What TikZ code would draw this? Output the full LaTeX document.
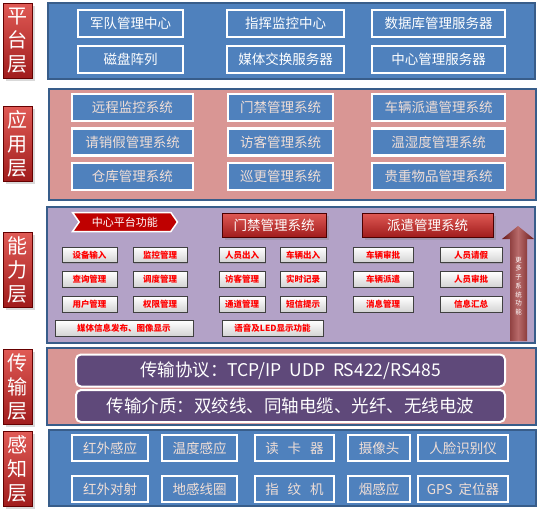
\documentclass[tikz,border=0pt]{standalone}
\usepackage{fontspec}
\setmainfont{Noto Sans CJK SC}
\usepackage{xcolor}
\usepackage{tikz}
\usetikzlibrary{shapes.symbols,shadows}
\definecolor{pblue}{HTML}{4F81BD}
\definecolor{pblueline}{HTML}{385D8A}
\definecolor{ppink}{HTML}{D99694}
\definecolor{ppurple}{HTML}{B3A2C7}
\definecolor{barpurple}{HTML}{5F497A}
\definecolor{redtop}{HTML}{E05A55}
\definecolor{redbot}{HTML}{A01C1C}
\definecolor{palefont}{HTML}{F0DED6}
\definecolor{arrowred}{HTML}{6A1A1A}
\definecolor{arrowmid}{HTML}{B86A6A}

\begin{document}
\begin{tikzpicture}[x=1pt,y=-1pt,
	layer/.style={draw=red!40!black,top color=redtop,bottom color=redbot,text=white,minimum width=29,minimum height=75,inner sep=0pt,align=center,font=\fontsize{20}{24}\selectfont,drop shadow={opacity=0.3}},
	panel/.style={draw=pblueline,line width=1.5},
	bluebox/.style={draw=white,line width=2.2,fill=pblue,minimum height=27,inner sep=0pt,font=\fontsize{13.5}{15}\selectfont,drop shadow={opacity=0.3,shadow xshift=1pt,shadow yshift=-1pt}},
	hdr/.style={draw=red!30!black,top color=redtop,bottom color=redbot,text=white,minimum height=24,inner sep=0pt,font=\fontsize{13.5}{15}\selectfont,drop shadow={opacity=0.35}},
	btn/.style={draw=gray!50!black,line width=0.7,top color=white,bottom color=gray!35,text=red,minimum height=15.5,inner sep=0pt,font=\fontsize{8.5}{10}\selectfont\bfseries,drop shadow={opacity=0.35,shadow xshift=1pt,shadow yshift=-1pt}},
	bar/.style={draw=white,line width=2,fill=barpurple,rounded corners=5,text=white,minimum width=429,minimum height=32,inner sep=0pt,font=\fontsize{17.5}{19}\selectfont}]
	\useasboundingbox (0,0) rectangle (550,509);

	% layer names
	\node[layer] (pingtai) at (17.5,40.5) {平\\台\\层};
	\node[layer] (yingyong) at (17.5,144) {应\\用\\层};
	\node[layer] (nengli) at (17.5,269.5) {能\\力\\层};
	\node[layer] (chuanshu) at (17.5,387) {传\\输\\层};
	\node[layer] (ganzhi) at (17.5,469) {感\\知\\层};

	% platform
	\draw[panel,fill=pblue] (48,3) rectangle (535,79);
	\node[bluebox,text=white,minimum width=105] (jundui) at (130.5,23.5) {军队管理中心};
	\node[bluebox,text=white,minimum width=105] (cipan) at (130.5,59.5) {磁盘阵列};
	\node[bluebox,text=white,minimum width=117] (zhihui) at (285.5,23.5) {指挥监控中心};
	\node[bluebox,text=white,minimum width=117] (meiti) at (285.5,59.5) {媒体交换服务器};
	\node[bluebox,text=white,minimum width=133] (shujuku) at (438.5,23.5) {数据库管理服务器};
	\node[bluebox,text=white,minimum width=133] (zhongxin) at (438.5,59.5) {中心管理服务器};

	% application
	\draw[panel,fill=ppink] (49,89) rectangle (536,200);
	\foreach \name/\y/\txt in {yuancheng/107.5/远程监控系统,qingxiao/142/请销假管理系统,cangku/176.5/仓库管理系统}
		\node[bluebox,text=palefont,minimum width=121] (\name) at (132.5,\y) {\txt};
	\foreach \name/\y/\txt in {menjin/107.5/门禁管理系统,fangke/142/访客管理系统,xungeng/176.5/巡更管理系统}
		\node[bluebox,text=palefont,minimum width=105] (\name) at (280.5,\y) {\txt};
	\foreach \name/\y/\txt in {cheliang/107.5/车辆派遣管理系统,wenshidu/142/温湿度管理系统,guizhong/176.5/贵重物品管理系统}
		\node[bluebox,text=palefont,minimum width=133] (\name) at (438.5,\y) {\txt};

	% capability
	\draw[panel,fill=ppurple] (47,207) rectangle (535,343);
	\node[signal,signal from=west,signal to=east,signal pointer angle=110,draw=white,line width=1.5,fill=red!75!black,text=white,minimum width=105,minimum height=19,inner sep=0pt,font=\fontsize{11}{13}\selectfont] (zhongxinpt) at (125,222) {中心平台功能};
	\node[hdr,minimum width=104] (menjinhdr) at (274,225) {门禁管理系统};
	\node[hdr,minimum width=131] (paiqianhdr) at (427.5,225) {派遣管理系统};
	\foreach \name/\x/\w/\a/\b/\c in {a/89.5/55/设备输入/查询管理/用户管理,b/160/54/监控管理/调度管理/权限管理,c/242/46/人员出入/访客管理/通道管理,d/303/46/车辆出入/实时记录/短信提示,e/383/60/车辆审批/车辆派遣/消息管理,f/471/62/人员请假/人员审批/信息汇总}{
		\node[btn,minimum width=\w] (\name1) at (\x,255) {\a};
		\node[btn,minimum width=\w] (\name2) at (\x,279.5) {\b};
		\node[btn,minimum width=\w] (\name3) at (\x,304.5) {\c};
	}
	\node[btn,minimum width=138] (fabu) at (124,328.5) {媒体信息发布、图像显示};
	\node[btn,minimum width=101] (yuyin) at (272.5,328.5) {语音及LED显示功能};
	\shade[left color=arrowred,right color=arrowred,middle color=arrowmid] (518,226) -- (534,239) -- (527,239) -- (527,341) -- (510,341) -- (510,239) -- (502,239) -- cycle;
	\node[text=white,inner sep=0pt,align=center,font=\fontsize{6.5}{8.7}\selectfont] (gengduo) at (518.5,286) {更\\多\\子\\系\\统\\功\\能};

	% transport
	\draw[panel,fill=ppink] (47,348) rectangle (536,425);
	\node[bar] (xieyi) at (290.5,370.5) {传输协议：TCP/IP\ \ UDP\ \ RS422/RS485};
	\node[bar] (jiezhi) at (290.5,406) {传输介质：双绞线、同轴电缆、光纤、无线电波};

	% perception
	\draw[panel,fill=pblue] (49,430) rectangle (536,506);
	\foreach \name/\x/\w/\a/\b in {hw/110/76/红外感应/红外对射,wd/199.5/75/温度感应/地感线圈,dk/294.5/79/{读\hspace{9pt}卡\hspace{9pt}器}/{指\hspace{9pt}纹\hspace{9pt}机},sx/379/62/摄像头/烟感应,rl/463/90/人脸识别仪/{GPS\ \ 定位器}}{
		\node[bluebox,text=palefont,minimum width=\w,minimum height=26] (\name1) at (\x,448) {\a};
		\node[bluebox,text=palefont,minimum width=\w,minimum height=26] (\name2) at (\x,489) {\b};
	}
\end{tikzpicture}
\end{document}
